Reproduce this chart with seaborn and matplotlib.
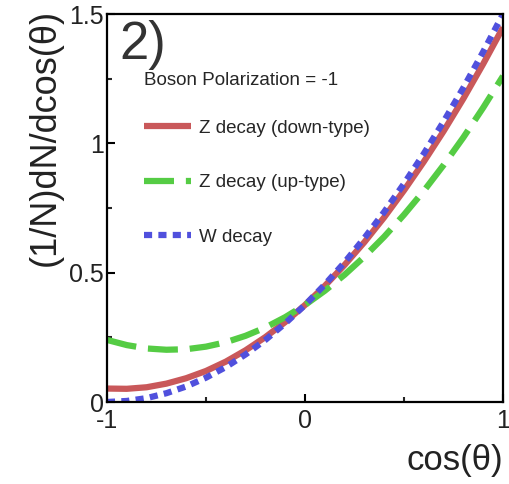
import numpy as np
import pandas as pd
import seaborn as sns
import matplotlib
matplotlib.use("Agg")
import matplotlib.pyplot as plt
from matplotlib.ticker import MultipleLocator, FuncFormatter

# Data
cos_theta = [-1.0, -0.9, -0.8, -0.7, -0.6, -0.5, -0.4, -0.3, -0.2, -0.1, 0.0,
             0.1, 0.2, 0.3, 0.4, 0.5, 0.6, 0.7, 0.8, 0.9, 1.0]
z_down = [0.052, 0.051, 0.057, 0.071, 0.092, 0.120, 0.156, 0.200, 0.251, 0.309, 0.375,
          0.449, 0.530, 0.618, 0.714, 0.818, 0.929, 1.047, 1.173, 1.307, 1.448]
z_up = [0.240, 0.220, 0.207, 0.202, 0.204, 0.214, 0.231, 0.256, 0.288, 0.328, 0.375,
        0.430, 0.492, 0.562, 0.639, 0.724, 0.816, 0.916, 1.023, 1.138, 1.260]
w_decay = [0.000, 0.004, 0.015, 0.034, 0.060, 0.094, 0.135, 0.184, 0.240, 0.304, 0.375,
           0.454, 0.540, 0.634, 0.735, 0.844, 0.960, 1.084, 1.215, 1.354, 1.500]
series_names = ["Z decay (down-type)", "Z decay (up-type)", "W decay"]
legend_title = "Boson Polarization = -1"
panel_label = "2)"
x_label = "cos(θ)"
y_label = "(1/N)dN/dcos(θ)"

sns.set_theme(style="ticks")
plt.rcParams['font.family'] = ['Liberation Sans', 'DejaVu Sans']
plt.rcParams['axes.unicode_minus'] = False

df = pd.DataFrame({"c": cos_theta * 3,
                   "v": z_down + z_up + w_decay,
                   "s": [series_names[0]] * len(cos_theta) + [series_names[1]] * len(cos_theta)
                        + [series_names[2]] * len(cos_theta)})

fig = plt.figure(figsize=(5.09, 4.84), dpi=100)
ax = fig.add_axes([107 / 509, 1 - 402 / 484, 396 / 509, 388 / 484])

colors = ["#c9585a", "#55cc44", "#5050dd"]
styles = [dict(linestyle="-"), dict(dashes=(4.8, 1.9)), dict(dashes=(1.3, 1.0))]
for name, col, st in zip(series_names, colors, styles):
    sub = df[df["s"] == name]
    sns.lineplot(data=sub, x="c", y="v", ax=ax, color=col, lw=4.5, label=name,
                 solid_capstyle="butt", dash_capstyle="butt", **st)

ax.set_xlim(-1, 1)
ax.set_ylim(0, 1.5)
ax.xaxis.set_major_locator(MultipleLocator(1))
ax.xaxis.set_minor_locator(MultipleLocator(0.5))
ax.yaxis.set_major_locator(MultipleLocator(0.5))
ax.yaxis.set_minor_locator(MultipleLocator(0.25))
fmt = FuncFormatter(lambda v, p: ("%g" % v))
ax.xaxis.set_major_formatter(fmt)
ax.yaxis.set_major_formatter(fmt)
ax.tick_params(which="major", direction="in", length=6, width=1.5, labelsize=18,
               pad=2, colors="black", labelcolor="#222222")
ax.tick_params(axis="x", which="major", pad=5)
ax.tick_params(which="minor", direction="in", length=3.5, width=1.5)
for sp in ax.spines.values():
    sp.set_linewidth(1.6)
    sp.set_color("black")
    sp.set_visible(True)

ax.set_xlabel(x_label, fontsize=25, loc="right", color="#222222", labelpad=8)
ax.set_ylabel("")
fig.text(45 / 509, 1 - 137 / 484, y_label, rotation=90, fontsize=26,
         ha="center", va="center", color="#222222")

ax.text(0.03, 0.985, panel_label, transform=ax.transAxes, fontsize=38,
        ha="left", va="top", color="#333333")

leg = ax.legend(title=legend_title, loc="upper left",
                bbox_to_anchor=(0.07, 0.875), frameon=False, fontsize=13.5,
                title_fontsize=13.5, handlelength=2.5, labelspacing=2.0,
                handletextpad=0.45, borderpad=0, alignment="left")
leg._legend_box.sep = 22

fig.savefig("out.png", dpi=100, facecolor="white")
